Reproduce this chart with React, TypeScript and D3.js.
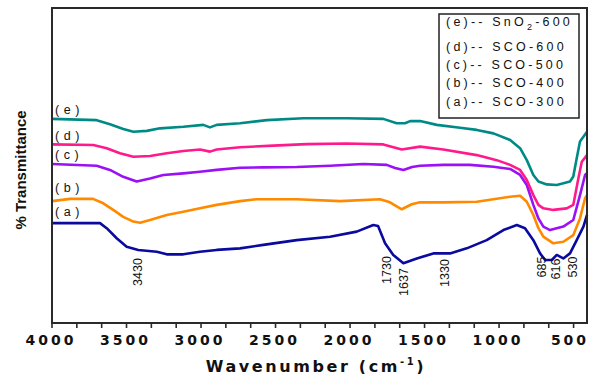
import React from "react";
import * as d3 from "d3";

// wavenumber (cm^-1) samples and % transmittance (arbitrary offset units)
const seriesA_w = [4000, 3678, 3633, 3566, 3499, 3421, 3297, 3230, 3119, 3007, 2895, 2738, 2582, 2358, 2134, 1955, 1844, 1812, 1765, 1710, 1642, 1552, 1441, 1329, 1217, 1083, 971, 881, 826, 770, 725, 691, 646, 613, 569, 524, 479, 434, 410];
const seriesA_t = [31.7, 31.7, 30.1, 26.9, 24.2, 23.2, 22.6, 21.8, 21.8, 22.6, 23.2, 23.7, 24.8, 26.3, 27.4, 29.0, 31.1, 30.8, 25.3, 21.6, 19.0, 20.5, 22.1, 22.1, 23.7, 26.3, 29.5, 31.1, 30.1, 26.3, 22.1, 20.0, 20.0, 21.6, 20.5, 22.1, 26.3, 30.6, 34.3];

const seriesB_w = [4000, 3879, 3725, 3656, 3589, 3522, 3454, 3409, 3342, 3230, 3119, 3007, 2895, 2738, 2626, 2358, 2067, 1799, 1732, 1653, 1586, 1530, 1374, 1150, 926, 859, 814, 770, 736, 703, 636, 569, 502, 457, 423, 410];
const seriesB_t = [38.7, 39.4, 39.4, 38.0, 35.9, 33.7, 32.2, 31.8, 32.7, 34.3, 35.3, 36.4, 37.5, 38.7, 39.3, 39.3, 38.7, 39.3, 38.3, 36.1, 37.7, 38.3, 38.3, 38.5, 40.1, 40.4, 38.5, 34.3, 30.1, 27.4, 25.3, 25.8, 27.9, 33.2, 39.6, 40.6];

const seriesC_w = [4000, 3700, 3611, 3522, 3432, 3342, 3253, 3119, 3007, 2895, 2738, 2582, 2358, 2134, 1911, 1754, 1698, 1642, 1584, 1530, 1374, 1195, 1038, 926, 859, 814, 770, 736, 703, 658, 569, 502, 457, 423, 410];
const seriesC_t = [50.5, 49.9, 48.6, 46.4, 44.9, 45.9, 47.0, 47.5, 48.0, 48.6, 49.3, 49.4, 49.5, 49.9, 50.5, 50.2, 49.2, 48.6, 49.5, 49.9, 50.2, 50.2, 49.6, 48.9, 47.0, 43.8, 37.5, 33.2, 30.6, 29.5, 30.6, 32.7, 40.6, 47.0, 47.6];

const seriesD_w = [4000, 3723, 3633, 3544, 3454, 3342, 3230, 3119, 3007, 2940, 2895, 2738, 2515, 2291, 2022, 1777, 1653, 1530, 1374, 1150, 1016, 926, 859, 814, 770, 736, 703, 636, 546, 502, 468, 445, 410];
const seriesD_t = [56.7, 56.5, 55.5, 53.9, 52.8, 53.0, 53.9, 54.6, 55.1, 54.4, 55.1, 55.8, 56.3, 56.8, 57.0, 56.7, 55.1, 56.0, 55.1, 53.3, 51.7, 50.2, 48.6, 45.4, 40.6, 37.5, 36.4, 35.9, 36.4, 37.5, 45.9, 51.2, 53.3];

const seriesE_w = [4000, 3700, 3611, 3522, 3454, 3364, 3275, 3119, 2985, 2940, 2895, 2738, 2559, 2314, 2022, 1777, 1687, 1631, 1597, 1530, 1418, 1262, 1150, 1038, 926, 859, 814, 770, 736, 680, 613, 524, 502, 479, 457, 410];
const seriesE_t = [64.8, 64.4, 63.1, 61.6, 60.7, 61.0, 61.8, 62.3, 62.9, 62.1, 62.9, 63.4, 64.4, 65.0, 65.0, 64.8, 63.4, 63.4, 64.1, 64.1, 62.9, 62.0, 61.3, 60.2, 58.1, 55.5, 51.7, 47.0, 44.9, 44.0, 43.8, 44.9, 46.5, 52.3, 57.6, 60.7];

const seriesKeys = ["a", "b", "c", "d", "e"];
const seriesNames = ["SCO-300", "SCO-400", "SCO-500", "SCO-600", "SnO2-600"];
const seriesColors = ["#0a0a9e", "#ff8a00", "#9b10f5", "#ff1a8c", "#008a86"];

const xTickLabels = [4000, 3500, 3000, 2500, 2000, 1500, 1000, 500];
const peakLabels = ["3430", "1730", "1637", "1330", "685", "616", "530"];
const peakWaves = [3430, 1730, 1637, 1330, 685, 616, 530];

const W = 590, H = 374;
const L = 52, R = 587, T = 8, B = 323;

export default function App() {
  const x = d3.scaleLinear().domain([4000, 410]).range([L, R]);
  const y = d3.scaleLinear().domain([0, 100]).range([B, T]);
  const line = d3.line<[number, number]>().x(d => x(d[0])).y(d => y(d[1]));

  const series = [
    [seriesA_w, seriesA_t],
    [seriesB_w, seriesB_t],
    [seriesC_w, seriesC_t],
    [seriesD_w, seriesD_t],
    [seriesE_w, seriesE_t],
  ].map(([w, t]) => w.map((v, i) => [v, t[i]] as [number, number]));

  const minorTicks = d3.range(0, 22).map(i => 4000 - i * (500 / 3)).filter(v => v >= 440);

  // placement offsets for the rotated peak labels
  const peakDx = [1, -3, 0, -5, -4, 0, 4];
  const peakY = [272, 270, 282, 273, 267, 269, 267];

  const curveLabelY = [215.5, 192, 158.5, 140, 114];
  const legendY = [106, 87, 68.5, 51, 26];

  const font = "'Liberation Sans', Arial, sans-serif";
  const heavy = "'DejaVu Sans', 'Liberation Sans', sans-serif";

  return (
    <svg width={W} height={H} style={{ position: "absolute", left: 0, top: 0, background: "#fff" }} fontFamily={font}>
      <rect x={0} y={0} width={W} height={H} fill="#fff" />
      {/* curves */}
      {series.map((s, i) => (
        <path key={i} d={line(s) || ""} fill="none" stroke={seriesColors[i]} strokeWidth={2.6} strokeLinejoin="round" />
      ))}
      {/* frame */}
      <rect x={L} y={T} width={R - L} height={B - T} fill="none" stroke="#2a2a2a" strokeWidth={2} />
      {/* ticks */}
      {minorTicks.map((v, i) => (
        <line key={i} x1={x(v)} x2={x(v)} y1={B} y2={B + 5} stroke="#2a2a2a" strokeWidth={1.6} />
      ))}
      {xTickLabels.map(v => (
        <text key={v} x={Math.min(x(v) - 1, 570)} y={345} textAnchor="middle" fontFamily={heavy} fontSize={14} fontWeight="bold" letterSpacing={3} fill="#111">
          {v}
        </text>
      ))}
      {/* axis titles */}
      <text x={316} y={372} textAnchor="middle" fontFamily={heavy} fontSize={16} fontWeight="bold" letterSpacing={2.6} fill="#111">
        Wavenumber (cm<tspan dy={-7} fontSize={10}>-1</tspan><tspan dy={7}>)</tspan>
      </text>
      <text transform="translate(26,170) rotate(-90)" textAnchor="middle" fontSize={15} fontWeight="bold" fill="#111">
        % Transmittance
      </text>
      {/* curve labels */}
      {seriesKeys.map((k, i) => (
        <text key={k} x={55} y={curveLabelY[i]} fontSize={12.5} letterSpacing={4.5} fill="#111">({k})</text>
      ))}
      {/* peak labels */}
      {peakLabels.map((p, i) => (
        <text key={p} transform={`translate(${x(peakWaves[i]) + peakDx[i]},${peakY[i]}) rotate(-90)`} textAnchor="middle" dominantBaseline="central" fontSize={12.5} fill="#111">
          {p}
        </text>
      ))}
      {/* legend */}
      <rect x={439} y={14} width={140} height={104} fill="#fff" stroke="#222" strokeWidth={1.5} />
      {seriesKeys.map((k, i) => {
        const name = seriesNames[i];
        const isSn = name.startsWith("SnO2");
        return (
          <text key={k} x={446} y={legendY[i]} fontSize={12.5} letterSpacing={3.2} fill="#111">
            ({k})-- {isSn ? (<>SnO<tspan dy={4} fontSize={9}>2</tspan><tspan dy={-4}>-600</tspan></>) : name}
          </text>
        );
      })}
    </svg>
  );
}
